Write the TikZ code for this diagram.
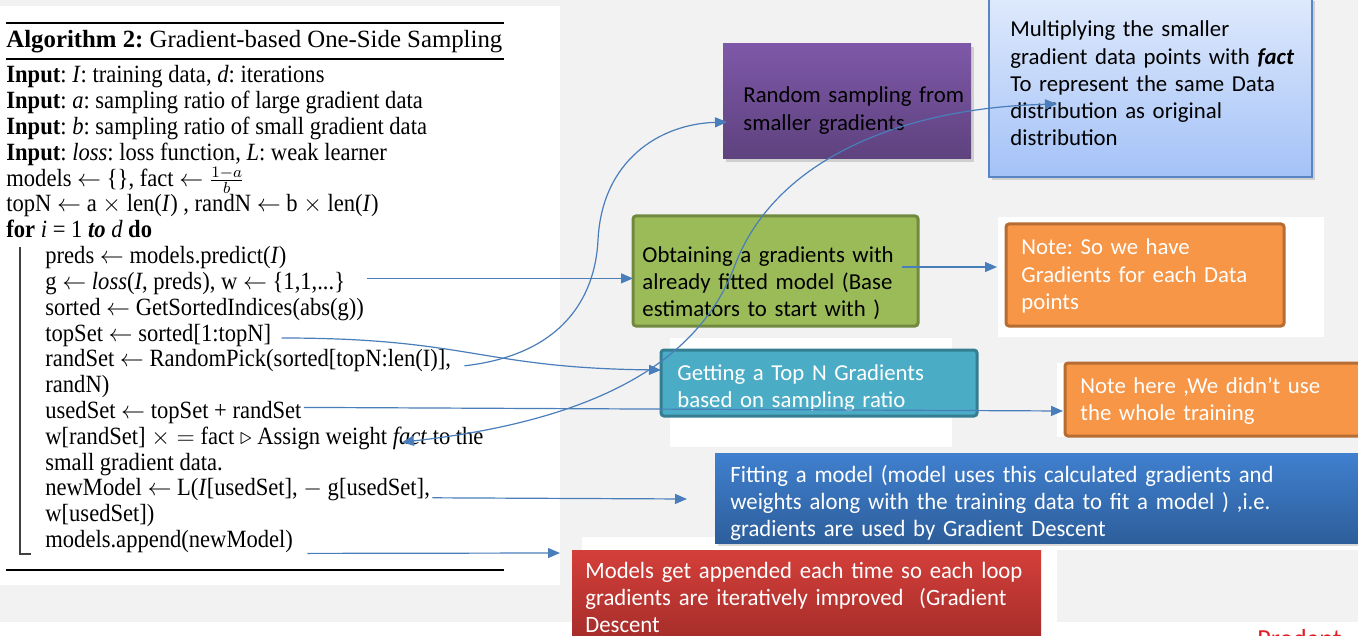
\documentclass[tikz,border=0pt]{standalone}
\usepackage{amsmath,amssymb}
\usepackage{xcolor}
\usepackage{fontspec}
\setmainfont{Liberation Serif}
\newfontfamily\algofont[FakeStretch=0.91]{Liberation Serif}
\newfontfamily\carlito{Carlito}
\newfontfamily\carlitoNarrow[FakeStretch=0.97]{Carlito}
\usepackage{tikz}
\usetikzlibrary{arrows.meta}
\usetikzlibrary{shadows}
\definecolor{slide}{RGB}{242,242,242}
\definecolor{wire}{RGB}{74,126,187}
\definecolor{purpleTop}{RGB}{126,88,168}
\definecolor{purpleBot}{RGB}{94,66,126}
\definecolor{skyTop}{RGB}{222,233,252}
\definecolor{skyBot}{RGB}{164,194,247}
\definecolor{skyLine}{RGB}{90,133,196}
\definecolor{olive}{RGB}{155,187,89}
\definecolor{oliveLine}{RGB}{113,137,63}
\definecolor{note}{RGB}{247,150,70}
\definecolor{noteLine}{RGB}{182,108,50}
\definecolor{topFill}{RGB}{75,172,198}
\definecolor{topLine}{RGB}{53,126,146}
\definecolor{fitTop}{RGB}{64,128,207}
\definecolor{fitBot}{RGB}{45,94,155}
\definecolor{redTop}{RGB}{212,63,58}
\definecolor{redBot}{RGB}{160,43,40}
\definecolor{logo}{RGB}{226,30,36}
\frenchspacing

\begin{document}
\begin{tikzpicture}[x=0.5pt,y=-0.5pt,
  algo/.style={anchor=base west,inner sep=0,font=\algofont\fontsize{12.4}{13}\selectfont},
  rule/.style={line width=1pt},
  box/.style={anchor=north west,inner sep=0,outer sep=0},
  say/.style={anchor=base west,inner sep=0,align=left,text width=330pt,font=\carlito\fontsize{11.4}{13.6}\selectfont},
  sayNarrow/.style={say,text=white,font=\carlitoNarrow\fontsize{11.7}{13.6}\selectfont},
  link/.style={draw=wire,line width=0.6pt,-{Triangle[length=6pt,width=5pt]}},
  lift/.style={drop shadow={opacity=0.3,shadow xshift=1.5pt,shadow yshift=-1.5pt}}]
  \useasboundingbox (0,0) rectangle (1358,636);
  \clip (0,0) rectangle (1358,636);

  % slide background and white patches
  \fill[slide] (0,0) rectangle (1358,636);
  \fill[white] (0,6) rectangle (560,585);
  \fill[white] (0,622) rectangle (1358,636);
  \fill[white] (670,338) rectangle (952,447);
  \fill[white] (998,217) rectangle (1324,337);
  \fill[white] (1057,363) rectangle (1358,437);
  \fill[white] (582,537) rectangle (1358,550);
  \fill[white] (582,550) rectangle (1057,622);

  % the algorithm
  \draw[rule] (6,23.5) -- (504,23.5);
  \node[anchor=base west,inner sep=0,font=\fontsize{12.4}{13}\selectfont] (head) at (6,48) {\textbf{Algorithm 2:} Gradient-based One-Side Sampling};
  \draw[rule] (6,59.5) -- (504,59.5);
  \node[algo] (inData) at (6,83) {\textbf{Input}: \textit{I}: training data, \textit{d}: iterations};
  \node[algo] (inA) at (6,108.8) {\textbf{Input}: \textit{a}: sampling ratio of large gradient data};
  \node[algo] (inB) at (6,134.6) {\textbf{Input}: \textit{b}: sampling ratio of small gradient data};
  \node[algo] (inLoss) at (6,160.4) {\textbf{Input}: \textit{loss}: loss function, \textit{L}: weak learner};
  \node[algo] (init) at (6,186.2) {models $\leftarrow$ \{\}, fact $\leftarrow$ {\fontsize{11}{11}\selectfont$\frac{1-a}{b}$}};
  \node[algo] (sizes) at (6,212) {topN $\leftarrow$ a $\times$ len(\textit{I}) , randN $\leftarrow$ b $\times$ len(\textit{I})};
  \node[algo] (loop) at (6,237.8) {\textbf{for} \textit{i} = 1 \textbf{\textit{to}} \textit{d} \textbf{do}};
  \node[algo] (preds) at (45,263.6) {preds $\leftarrow$ models.predict(\textit{I})};
  \node[algo] (grad) at (45,289.4) {g $\leftarrow$ \textit{loss}(\textit{I}, preds), w $\leftarrow$ \{1,1,...\}};
  \node[algo] (sorted) at (45,315.2) {sorted $\leftarrow$ GetSortedIndices(abs(g))};
  \node[algo] (topset) at (45,341) {topSet $\leftarrow$ sorted[1:topN]};
  \node[algo] (randset) at (45,366.8) {randSet $\leftarrow$ RandomPick(sorted[topN:len(I)],};
  \node[algo] (randn) at (45,392.6) {randN)};
  \node[algo] (usedset) at (45,418.4) {usedSet $\leftarrow$ topSet + randSet};
  \node[algo] (weight) at (45,444.2) {w[randSet] $\times =$ fact $\triangleright$ Assign weight \textit{fact} to the};
  \node[algo] (weight2) at (45,470) {small gradient data.};
  \node[algo] (fitline) at (45,495.8) {newModel $\leftarrow$ L(\textit{I}[usedSet], $-$ g[usedSet],};
  \node[algo] (fitline2) at (45,521.6) {w[usedSet])};
  \node[algo] (append) at (45,547.4) {models.append(newModel)};
  \draw[line width=0.7pt,black!75] (20,247) -- (20,554) -- (31,554);
  \draw[rule] (6,569.5) -- (504,569.5);

  % boxes
  \node[box,minimum width=124pt,minimum height=57.5pt,top color=purpleTop,bottom color=purpleBot,lift] (samp) at (723,44) {};
  \node[box,minimum width=161.5pt,minimum height=89.5pt,top color=skyTop,bottom color=skyBot,draw=skyLine,line width=0.6pt,lift] (mult) at (989,-2) {};
  \node[box,minimum width=142.5pt,minimum height=55pt,fill=olive,draw=oliveLine,line width=1.5pt,rounded corners=1.5pt] (obtain) at (633,216) {};
  \node[box,minimum width=139pt,minimum height=51pt,fill=note,draw=noteLine,line width=1.5pt,rounded corners=1.5pt] (note1) at (1006,224) {};
  \node[box,minimum width=158pt,minimum height=33pt,fill=topFill,draw=topLine,line width=1.5pt,rounded corners=1.5pt] (topn) at (661,350) {};
  \node[box,minimum width=152.5pt,minimum height=36.5pt,fill=note,draw=noteLine,line width=1.5pt,rounded corners=1.5pt] (note2) at (1065,363) {};
  \node[box,minimum width=322.5pt,minimum height=45pt,top color=fitTop,bottom color=fitBot,lift] (fit) at (715,453) {};
  \node[box,minimum width=234.5pt,minimum height=50pt,top color=redTop,bottom color=redBot] (append box) at (572,550) {};

  % box texts
  \node[say] (sampTxt) at (743,103) {Random sampling from\\smaller gradients};
  \node[say] (multTxt) at (1010,37) {Multiplying the smaller\\gradient data points with \textbf{\textit{fact}}\\To represent the same Data\\distribution as original\\distribution};
  \node[say] (obtainTxt) at (642,262) {Obtaining a gradients with\\already fitted model (Base\\estimators to start with )};
  \node[say,text=white] (note1Txt) at (1021,255) {Note: So we have\\Gradients for each Data\\points};
  \node[say,text=white] (topnTxt) at (677,380) {Getting a Top N Gradients\\based on sampling ratio};
  \node[say,text=white] (note2Txt) at (1080,393) {Note here ,We didn’t use\\the whole training};
  \node[sayNarrow] (fitTxt) at (730,482) {Fitting a model (model uses this calculated gradients and\\weights along with the training data to fit a model ) ,i.e.\\gradients are used by Gradient Descent};
  \node[sayNarrow] (appendTxt) at (585,578) {Models get appended each time so each loop\\gradients are iteratively improved~ (Gradient\\Descent};
  \node[anchor=north west,inner sep=0,text=logo,font=\carlito\fontsize{13}{13}\selectfont] (logo) at (1257,629) {Prodapt};

  % connectors
  \coordinate (gOut) at ([shift={(21,-11)}]grad.base east);
  \coordinate (topOut) at ([shift={(10,-3)}]topset.base east);
  \coordinate (randOut) at ([shift={(13,-1)}]randset.base east);
  \coordinate (usedOut) at ([shift={(2,-11)}]usedset.base east);
  \coordinate (factIn) at ([shift={(-82,-2)}]weight.base east);
  \coordinate (fitOut) at ([shift={(2,2)}]fitline.base east);
  \coordinate (appendOut) at ([shift={(14,6)}]append.base east);
  \draw[link] (gOut) -- (gOut -| obtain.west);
  \draw[link] ([shift={(-16,51)}]obtain.north east) -- ([shift={(-9,43)}]note1.north west);
  \draw[link] (topOut) .. controls (470,338) and (480,368) .. ([shift={(0,20)}]topn.north west);
  \draw[link] (randOut) .. controls (560,355) and (595,300) .. (598,240)
    .. controls (602,160) and (660,124) .. ([shift={(4,78)}]samp.north west);
  \draw[link] (usedOut) -- ([shift={(-2,48)}]note2.north west);
  \draw[link,{Triangle[length=6pt,width=5pt]}-{Triangle[length=6pt,width=5pt]}] (factIn)
    .. controls (600,420) and (700,360) .. (735,265)
    .. controls (775,160) and (900,108) .. ([shift={(68,106)}]mult.north west);
  \draw[link] (fitOut) -- ([shift={(-28,46)}]fit.north west);
  \draw[link] (appendOut) -- ([shift={(-12,3)}]append box.north west);
\end{tikzpicture}
\end{document}
